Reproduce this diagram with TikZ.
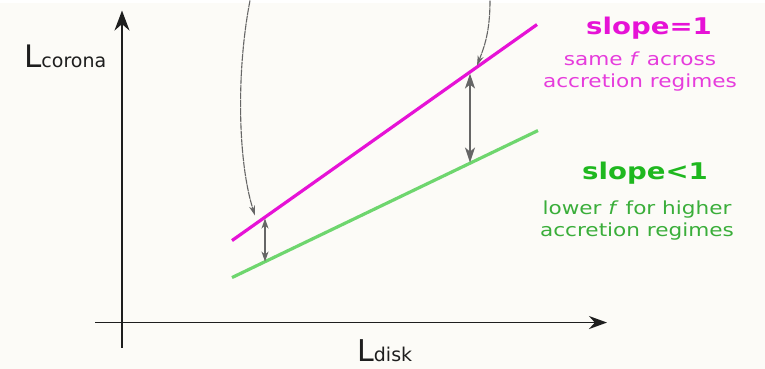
\documentclass[tikz,border=0pt]{standalone}
\usepackage{fontspec}
\setmainfont{DejaVu Sans}[FakeStretch=1.2]
\newfontfamily\axisfont{DejaVu Sans}
\usetikzlibrary{arrows.meta}
\definecolor{paper}{HTML}{FCFBF7}
\definecolor{ink}{HTML}{1E1E1E}
\definecolor{pointer}{HTML}{666666}
\definecolor{steep}{HTML}{E612D6}
\definecolor{steeptext}{HTML}{E63CDC}
\definecolor{flat}{HTML}{6ED66E}
\definecolor{flathead}{HTML}{1FB81F}
\definecolor{flattext}{HTML}{3AAE3A}

\begin{document}
\begin{tikzpicture}[
  x=1pt, y=-1pt,
  axis/.style={draw=ink, line width=1.8pt},
  relation/.style={line width=3.2pt},
  pointer/.style={draw=pointer, line width=1.1pt, dash pattern=on 7pt off 0.7pt, -{Stealth[length=10pt, width=6pt]}},
  offset/.style={draw=pointer, line width=1.5pt, {Stealth[length=15pt, width=10pt, inset=4pt]}-{Stealth[length=15pt, width=10pt, inset=4pt]}},
  headline/.style={font=\fontsize{23}{26}\selectfont\bfseries, inner sep=0pt},
  caption/.style={font=\fontsize{18}{22}\selectfont, align=center, inner sep=0pt},
]
\fill[paper] (0,0) rectangle (765,366);

% axes
\coordinate (ybot) at (122,345);
\coordinate (ytop) at (122,8);
\coordinate (xleft) at (95,320);
\coordinate (xright) at (607,320);
\draw[axis, -{Stealth[length=20pt, width=15pt]}] (ybot) -- (ytop);
\draw[axis, -{Stealth[length=18pt, width=13pt]}] (xleft) -- (xright);
\node[anchor=base west, inner sep=0pt, text=ink] (ylabel) at (24,65)
  {\axisfont\fontsize{31}{31}\selectfont L\fontsize{19}{19}\selectfont corona};
\node[anchor=base west, inner sep=0pt, text=ink] (xlabel) at (357,359)
  {\axisfont\fontsize{30}{30}\selectfont L\fontsize{19}{19}\selectfont disk};

% the two relations
\coordinate (steepstart) at (232,238);
\coordinate (steepend) at (537,22);
\coordinate (flatstart) at (232,275);
\coordinate (flatend) at (538,128);
\draw[relation, steep] (steepstart) -- (steepend);
\draw[relation, flat] (flatstart) -- (flatend);

% gaps between them
\coordinate (lowtop) at (265,216);
\coordinate (lowbot) at (265,259);
\coordinate (hightop) at (470,71);
\coordinate (highbot) at (470,160);
\draw[offset, {Stealth[length=10pt, width=7pt, inset=3pt]}-{Stealth[length=10pt, width=7pt, inset=3pt]}, line width=1.1pt] (lowtop) -- (lowbot);
\draw[offset] (hightop) -- (highbot);

% pointers from above
\coordinate (leftfrom) at (250,-2);
\coordinate (leftto) at (255,213);
\coordinate (rightfrom) at (490,-2);
\coordinate (rightto) at (477,63);
\draw[pointer] (leftfrom) .. controls (236,70) and (238,160) .. (leftto);
\draw[pointer] (rightfrom) .. controls (490,30) and (484,45) .. (rightto);

% legend
\node[headline, text=steep] (steephead) at (649,26) {slope=1};
\node[caption, text=steeptext] (steepnote) at (640,69) {same \textit{f} across\\accretion regimes};
\node[headline, text=flathead] (flathead) at (645,171) {slope<1};
\node[caption, text=flattext] (flatnote) at (637,218) {lower \textit{f} for higher\\accretion regimes};
\end{tikzpicture}
\end{document}
